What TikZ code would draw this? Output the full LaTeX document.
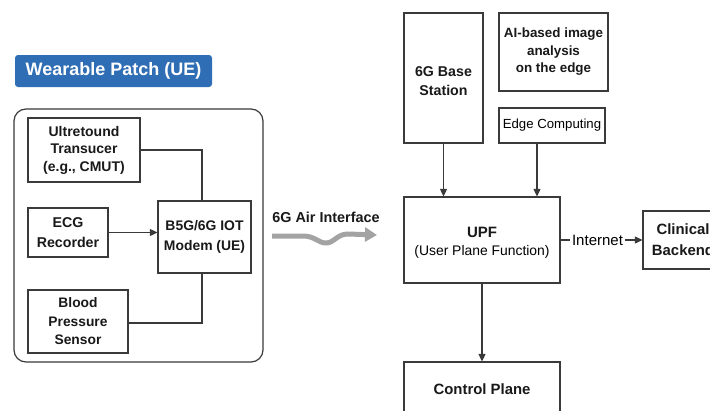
\documentclass[tikz,border=0pt]{standalone}
\usepackage{fontspec}
\setmainfont{Liberation Sans}
\usetikzlibrary{arrows.meta}
\definecolor{linegray}{HTML}{3A3A3A}
\definecolor{badgeblue}{HTML}{2F6DB5}
\definecolor{wavegray}{HTML}{A3A3A3}
\newcommand{\fs}[2]{\fontsize{#1}{#2}\selectfont}
\tikzset{
  box/.style={draw=linegray, line width=1.2pt, rectangle, align=center, inner sep=2pt},
  lbl/.style={font=\fs{14}{17.5}\bfseries, align=center, text=black!90},
  conn/.style={draw=linegray, line width=1.1pt},
  arr/.style={conn, -{Triangle[length=7.5pt,width=7pt]}},
}
\begin{document}
\begin{tikzpicture}[x=1pt,y=-1pt]
\useasboundingbox (0,0) rectangle (710,410);
\clip (0,0) rectangle (710,410);
\fill[white] (0,0) rectangle (710,410);

% title badge
\node[fill=badgeblue, rounded corners=3pt, minimum width=197pt, minimum height=32pt,
      text=white, font=\fs{18}{20}\bfseries] (title) at (113.5,71) {Wearable Patch (UE)};

% wearable patch frame
\node[draw=linegray, line width=1.2pt, rounded corners=12pt, minimum width=249pt, minimum height=253pt] (patch) at (138.5,235.5) {};

% sensors and modem
\node[box, lbl, minimum width=112pt, minimum height=64pt] (ultra) at (84,150) {Ultretound\\Transucer\\(e.g., CMUT)};
\node[box, lbl, font=\fs{14.2}{20}\bfseries, minimum width=80pt, minimum height=49pt] (ecg) at (68,232.5) {ECG\\Recorder};
\node[box, lbl, font=\fs{13.8}{18.5}\bfseries, minimum width=100pt, minimum height=63pt] (bp) at (78,321.5) {Blood\\Pressure\\Sensor};
\node[box, lbl, font=\fs{13.9}{20}\bfseries, minimum width=93pt, minimum height=72pt] (modem) at (204.5,237) {B5G/6G IOT\\Modem (UE)};

\draw[conn] (ultra.east) -| ([xshift=-2.5pt]modem.north);
\draw[arr] (ecg.east) -- (ecg.east -| modem.west);
\draw[conn] ([yshift=-1.5pt]bp.east) -| ([xshift=-2.5pt]modem.south);

% air interface
\node[lbl, font=\fs{14.4}{16}\bfseries] (air) at (326,217.5) {6G Air Interface};
\coordinate (w0) at (272,236);
\coordinate (w1) at (377,235);
\draw[wavegray, line width=5pt, -{Triangle[length=12pt,width=14pt]}]
  (w0) -- (303,236) .. controls (315,236) and (318,243) .. (326,243)
  .. controls (334,243) and (337,234) .. (348,234) -- (w1);

% core network
\node[box, minimum width=79pt, minimum height=130pt] (bs) at (443.5,78) {};
\node[lbl, font=\fs{14.2}{19}\bfseries] (bst) at (443.5,81.5) {6G Base\\Station};
\node[box, lbl, font=\fs{13.4}{17.5}\bfseries, minimum width=109pt, minimum height=78pt] (ai) at (553.5,52) {AI-based image\\analysis\\on the edge};
\node[box, font=\fs{13.2}{15}, minimum width=106pt, minimum height=35pt] (edge) at (552,125.5) {Edge Computing};
\node[box, minimum width=156pt, minimum height=86pt] (upf) at (482,240) {};
\node[lbl, font=\fs{15}{17}\bfseries] (upft) at (482,232) {UPF};
\node[font=\fs{13.9}{16}] (upfs) at (482,252) {(User Plane Function)};
\node[box, minimum width=156pt, minimum height=76pt] (ctrl) at (482,400) {};
\node[lbl, font=\fs{14.9}{17}\bfseries] (ctrlt) at (482,389) {Control Plane};
\node[box, lbl, font=\fs{14.9}{21}\bfseries, minimum width=80pt, minimum height=58pt] (clin) at (683,240) {Clinical\\Backend};
\node[font=\fs{15}{17}, inner sep=2pt] (inet) at (597.5,240) {Internet};

\draw[arr] (bs.south) -- (bs.south |- upf.north);
\draw[arr] ([xshift=-15pt]edge.south) -- ([xshift=-15pt]edge.south |- upf.north);
\draw[arr] (upf.south) -- (ctrl.north);
\draw[conn] (upf.east) -- (inet.west);
\draw[arr] (inet.east) -- (clin.west);
\end{tikzpicture}
\end{document}
